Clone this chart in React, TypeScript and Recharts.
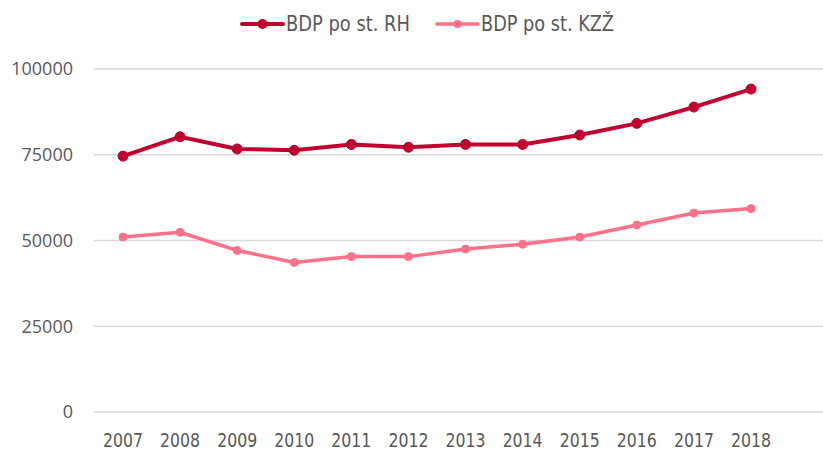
import React from 'react';
import { LineChart, Line, XAxis, YAxis, CartesianGrid, Legend } from 'recharts';

const years = ['2007', '2008', '2009', '2010', '2011', '2012', '2013', '2014', '2015', '2016', '2017', '2018'];
const bdpRH = [74600, 80250, 76700, 76300, 78000, 77200, 78000, 78000, 80750, 84150, 88900, 94150];
const bdpKZZ = [51000, 52400, 47100, 43600, 45300, 45300, 47500, 48900, 51000, 54500, 58000, 59300];
const yTicks = [0, 25000, 50000, 75000, 100000];

const RH_COLOR = '#C0002F';
const KZZ_COLOR = '#FF7189';
const TEXT = '#595959';

const data = years.map((y, i) => ({ year: y, rh: bdpRH[i], kzz: bdpKZZ[i] }));

const XTick = (props: any) => {
  const { x, y, payload } = props;
  return (
    <text x={x} y={y} dy={16.5} textAnchor="middle" fill={TEXT} fontSize={19}
      fontFamily="'Liberation Sans Narrow', 'DejaVu Sans Condensed', sans-serif"
      textLength={40} lengthAdjust="spacingAndGlyphs">
      {payload.value}
    </text>
  );
};

const LegendContent = () => {
  const items = [
    { label: 'BDP po st. RH', color: RH_COLOR, x: 242, w: 41, r: 5, sw: 4, tl: 124 },
    { label: 'BDP po st. KZŽ', color: KZZ_COLOR, x: 437, w: 41, r: 4, sw: 3.5, tl: 133 },
  ];
  return (
    <svg width={823} height={40} style={{ display: 'block' }}>
      {items.map((it) => (
        <g key={it.label}>
          <line x1={it.x} x2={it.x + it.w} y1={24} y2={24} stroke={it.color} strokeWidth={it.sw} strokeLinecap="round" />
          <circle cx={it.x + it.w / 2} cy={24} r={it.r} fill={it.color} />
          <text x={it.x + it.w + 3} y={31} fill={TEXT} fontSize={21}
            fontFamily="'Liberation Sans Narrow', 'DejaVu Sans Condensed', sans-serif"
            textLength={it.tl} lengthAdjust="spacingAndGlyphs">
            {it.label}
          </text>
        </g>
      ))}
    </svg>
  );
};

export default function App() {
  return (
    <div style={{ position: 'absolute', left: 0, top: 0, width: 823, height: 450, background: '#fff' }}>
      <LineChart width={823} height={450} data={data} margin={{ top: 29, right: 0, bottom: 0, left: 0 }}>
        <CartesianGrid vertical={false} stroke="#D9D9D9" strokeWidth={1.3} />
        <Legend verticalAlign="top" height={40} content={<LegendContent />} wrapperStyle={{ left: 0, top: 0 }} />
        <XAxis dataKey="year" axisLine={false} tickLine={false} tickSize={0} tickMargin={18}
          height={38} padding={{ left: 29, right: 72 }} tick={<XTick />} interval={0} />
        <YAxis domain={[0, 100000]} ticks={yTicks} axisLine={false} tickLine={false} tickSize={0}
          tickMargin={21} width={94}
          tick={{ fill: TEXT, fontSize: 18, fontFamily: "'Open Sans', sans-serif" }} />
        <Line type="linear" dataKey="rh" stroke={RH_COLOR} strokeWidth={4}
          dot={{ r: 5, fill: RH_COLOR, stroke: RH_COLOR, strokeWidth: 1 }} activeDot={false}
          isAnimationActive={false} />
        <Line type="linear" dataKey="kzz" stroke={KZZ_COLOR} strokeWidth={3.5}
          dot={{ r: 4, fill: KZZ_COLOR, stroke: KZZ_COLOR, strokeWidth: 1 }} activeDot={false}
          isAnimationActive={false} />
      </LineChart>
    </div>
  );
}
